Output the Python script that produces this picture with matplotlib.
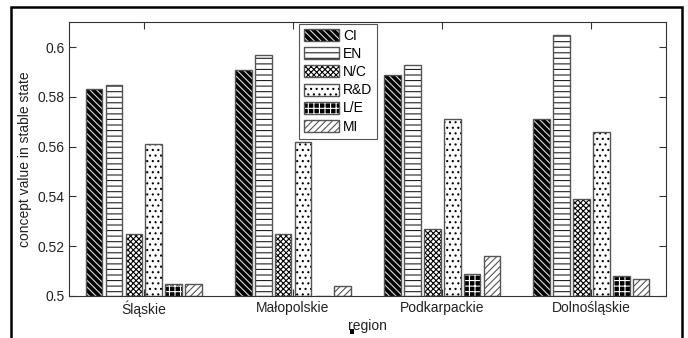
import numpy as np
import matplotlib
matplotlib.use('Agg')
import matplotlib.pyplot as plt
from matplotlib.patches import Patch, Rectangle
from matplotlib.legend_handler import HandlerTuple

# data
regions = ['Śląskie', 'Małopolskie', 'Podkarpackie', 'Dolnośląskie']
concepts = ['CI', 'EN', 'N/C', 'R&D', 'L/E', 'MI']
ci = [0.583, 0.591, 0.589, 0.571]
en = [0.585, 0.597, 0.593, 0.605]
nc = [0.525, 0.525, 0.527, 0.539]
rd = [0.561, 0.562, 0.571, 0.566]
le = [0.505, 0.500, 0.509, 0.508]
mi = [0.505, 0.504, 0.516, 0.507]
series = [ci, en, nc, rd, le, mi]

plt.rcParams['font.family'] = ['Liberation Sans', 'DejaVu Sans']
plt.rcParams['font.size'] = 10
plt.rcParams['hatch.linewidth'] = 0.8

# (face, hatch colour, hatch)
styles = [
    ('black', '#dddddd', '\\\\\\\\\\'),
    ('white', '#222222', '---'),
    ('white', 'black', 'xxxxxx'),
    ('white', 'black', '...'),
    ('black', 'white', '+++'),
    ('white', '#555555', '/////'),
]
edge = '#555555'

fig = plt.figure(figsize=(6.88, 3.38), dpi=100)
ax = fig.add_axes([0.1007, 0.1243, 0.8673, 0.8097])

x = np.arange(1, len(regions) + 1)
pitch = 0.8 / len(concepts)
width = 0.112
handles = []
for i, vals in enumerate(series):
    fc, hc, ht = styles[i]
    pos = x + (i - (len(concepts) - 1) / 2) * pitch
    heights = np.array(vals) - 0.5
    ax.bar(pos, heights, width, bottom=0.5, facecolor=fc, edgecolor=hc,
           hatch=ht, linewidth=0)
    ax.bar(pos, heights, width, bottom=0.5, facecolor='none', edgecolor=edge,
           linewidth=1.0)
    handles.append((Patch(facecolor=fc, edgecolor=hc, hatch=ht, linewidth=0),
                    Patch(facecolor='none', edgecolor=edge, linewidth=1.0)))

ax.set_xlim(0.5, 4.5)
ax.set_ylim(0.5, 0.61)
ax.set_xticks(x)
ax.set_xticklabels(regions)
ax.set_yticks([0.5, 0.52, 0.54, 0.56, 0.58, 0.6])
ax.set_yticklabels(['0.5', '0.52', '0.54', '0.56', '0.58', '0.6'])
ax.tick_params(direction='in', length=5, top=True, right=True,
               colors='#333333', labelcolor='#222222')
for s in ax.spines.values():
    s.set_color('#333333')
    s.set_linewidth(0.8)

ax.set_ylabel('concept value in stable state', color='#222222')
ax.set_xlabel('region', color='#222222', labelpad=1)

leg = ax.legend(handles, concepts, handler_map={tuple: HandlerTuple(ndivide=1)},
                loc='upper left', bbox_to_anchor=(0.385, 0.994),
                borderaxespad=0, fancybox=False, framealpha=1,
                handlelength=2.5, handleheight=0.95, labelspacing=0.3,
                handletextpad=0.3, borderpad=0.35, fontsize=10)
leg.get_frame().set_edgecolor('#555555')
leg.get_frame().set_linewidth(0.8)

# outer frame of the original figure
fig.patches.append(Rectangle((11 / 688, -0.1), 671 / 688, 1.1 - 7 / 338,
                             transform=fig.transFigure, fill=False,
                             edgecolor='black', linewidth=1.8))
# small black speck near the axis label
fig.patches.append(Rectangle((350 / 688, 1 - 334 / 338), 4 / 688, 5 / 338,
                             transform=fig.transFigure, facecolor='black',
                             edgecolor='none'))

fig.savefig('out.png', dpi=100)
